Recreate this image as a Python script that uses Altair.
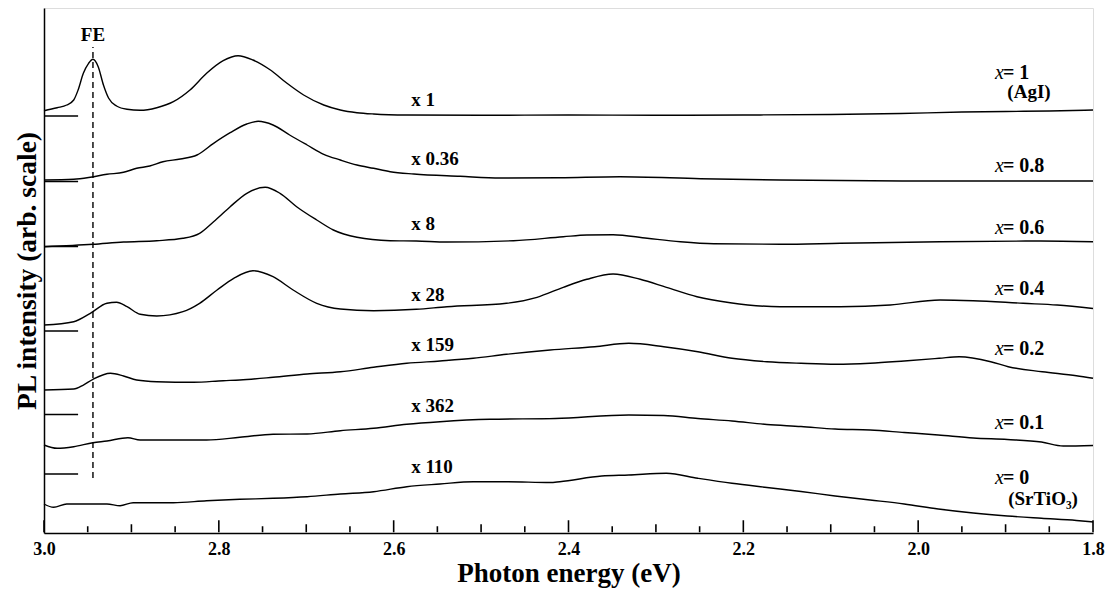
import altair as alt
import pandas as pd

# ---------------- data (arb. intensity units) ----------------
series_names = ["x=1", "x=0.8", "x=0.6", "x=0.4", "x=0.2", "x=0.1", "x=0"]

e1 = [3.000, 2.985, 2.974, 2.966, 2.961, 2.955, 2.949, 2.944, 2.938, 2.932, 2.926, 2.917, 2.905, 2.890,
      2.871, 2.852, 2.833, 2.814, 2.795, 2.778, 2.761, 2.741, 2.722, 2.703, 2.680, 2.661, 2.642, 2.623,
      2.585, 2.50, 2.40, 2.30, 2.20, 2.10, 2.02, 1.95, 1.90, 1.85, 1.80]
i1 = [422.3, 425.3, 428, 433, 443, 459.7, 469.7, 473.7, 466.3, 448, 434.7, 427, 423.7, 422.7,
      425.3, 431.3, 443, 459.7, 472.3, 477.3, 473, 463, 449.7, 438, 428, 423, 420.3, 419,
      418, 417.7, 418, 417.7, 418, 418.5, 419.5, 421, 421.5, 422, 423]

e2 = [3.000, 2.966, 2.947, 2.928, 2.909, 2.894, 2.879, 2.864, 2.844, 2.825, 2.806, 2.787, 2.768, 2.755,
      2.738, 2.719, 2.699, 2.680, 2.661, 2.642, 2.623, 2.604, 2.577, 2.524, 2.478, 2.410, 2.341, 2.249,
      2.158, 2.000, 1.800]
i2 = [353, 353.7, 355.7, 358.7, 360.7, 364.7, 367, 371.3, 374, 378, 389.7, 400.3, 409, 411.7,
      408, 398, 388, 378.7, 373, 368, 364.7, 361.3, 359, 356.7, 355, 355.3, 356.3, 354.3,
      353, 352, 352]

e3 = [3.000, 2.944, 2.909, 2.871, 2.841, 2.822, 2.806, 2.787, 2.768, 2.747, 2.730, 2.711, 2.688, 2.669,
      2.642, 2.604, 2.574, 2.539, 2.463, 2.406, 2.379, 2.349, 2.310, 2.272, 2.234, 2.158, 2.089, 1.975,
      1.860, 1.800]
i3 = [286.3, 288.7, 291, 292.3, 294.7, 299.7, 311.3, 326.3, 339.7, 345.7, 339.7, 326.3, 313, 303,
      295.7, 292.3, 292, 291, 292.3, 296.3, 298, 298.3, 294.7, 291.3, 289.3, 288.7, 289.7, 291.3,
      292, 291.3]

e4 = [3.000, 2.966, 2.947, 2.928, 2.917, 2.905, 2.890, 2.871, 2.841, 2.822, 2.802, 2.783, 2.761, 2.738,
      2.715, 2.688, 2.661, 2.623, 2.574, 2.539, 2.471, 2.436, 2.406, 2.379, 2.349, 2.318, 2.288, 2.253,
      2.215, 2.158, 2.089, 2.032, 1.975, 1.937, 1.880, 1.841, 1.800]
i4 = [208, 211.3, 219.7, 229.7, 230.7, 226.3, 218.7, 217, 221.3, 229.7, 243, 254.7, 262.3, 256.3,
      243, 229.7, 224, 222.3, 223.7, 226.3, 229.7, 235.7, 245.7, 253.7, 259, 253.7, 245.7, 236.3,
      230.3, 226.3, 226.3, 228, 233, 232.3, 229.7, 228, 224.5]

e5 = [3.000, 2.966, 2.955, 2.944, 2.924, 2.909, 2.894, 2.871, 2.829, 2.795, 2.776, 2.738, 2.699, 2.661,
      2.623, 2.585, 2.547, 2.509, 2.471, 2.421, 2.370, 2.331, 2.291, 2.252, 2.213, 2.173, 2.134, 2.094,
      2.055, 2.016, 1.976, 1.953, 1.917, 1.897, 1.858, 1.819, 1.800]
i5 = [143, 144, 148, 153.7, 159.7, 157, 153, 151.3, 150.7, 152.3, 153, 155.7, 159, 161.3,
      165.7, 169.7, 172, 174.7, 178.7, 183, 186.3, 189.7, 186.3, 181.3, 174.7, 171.3, 169.7, 168.7,
      169.7, 172, 174.7, 176.3, 171.3, 166.3, 161.3, 157.3, 154.7]

e6 = [3.000, 2.985, 2.966, 2.944, 2.928, 2.904, 2.890, 2.852, 2.814, 2.776, 2.738, 2.699, 2.661, 2.623,
      2.585, 2.547, 2.490, 2.415, 2.331, 2.291, 2.252, 2.213, 2.173, 2.134, 2.095, 2.055, 2.016, 1.977,
      1.937, 1.898, 1.859, 1.834, 1.800]
i6 = [88, 84.7, 86.3, 90.3, 92, 95.3, 93, 93, 93, 95.7, 98.7, 99, 102.3, 104.7,
      108.7, 111.3, 113.7, 114.5, 118, 117.5, 114.5, 112, 108.5, 106.5, 104, 103, 100.5, 98,
      95, 93.5, 91, 87, 87.5]

e7 = [3.000, 2.989, 2.974, 2.928, 2.913, 2.898, 2.852, 2.814, 2.776, 2.738, 2.699, 2.661, 2.623, 2.585,
      2.547, 2.509, 2.471, 2.421, 2.410, 2.362, 2.331, 2.288, 2.252, 2.213, 2.173, 2.134, 2.095, 2.055,
      2.016, 1.977, 1.937, 1.898, 1.859, 1.819, 1.800]
i7 = [29, 25.7, 29, 29, 27.3, 30.3, 30.3, 32.3, 33.7, 34.7, 36.3, 39, 41.3, 46.3,
      49, 51.3, 51.3, 50.5, 51.3, 57, 58, 59.7, 54.7, 49.7, 45.5, 41.5, 37, 33,
      29, 24, 20, 17, 14.7, 12.5, 11]

energies = [e1, e2, e3, e4, e5, e6, e7]
intensities = [i1, i2, i3, i4, i5, i6, i7]

# zero-level marks for the six upper spectra
baseline_levels = [417, 351.5, 286.5, 202, 118.5, 59]
baseline_start = 3.0
baseline_end = 2.961

# FE marker
fe_energy = 2.944
fe_low, fe_high = 55, 486
fe_label_level = 498

# scale factors
scale_texts = ["x 1", "x 0.36", "x 8", "x 28", "x 159", "x 362", "x 110"]
scale_levels = [433, 374, 309, 238.5, 188, 127, 66.5]
scale_energy = 2.58

# composition labels
comp_values = ["= 1", "= 0.8", "= 0.6", "= 0.4", "= 0.2", "= 0.1", "= 0"]
comp_levels = [460, 367.5, 305, 244, 184.5, 110.5, 55.5]
comp_x_energy = 1.912
comp_val_energy = 1.903
sub_texts = ["(AgI)", "(SrTiO₃)"]
sub_levels = [441, 34]
sub_energy = [1.898, 1.897]

major_ticks = [3.0, 2.8, 2.6, 2.4, 2.2, 2.0, 1.8]
mid_ticks = [2.9, 2.7, 2.5, 2.3, 2.1, 1.9]
minor_ticks = [2.95, 2.85, 2.75, 2.65, 2.55, 2.45, 2.35, 2.25, 2.15, 2.05, 1.95, 1.85]
tick_len = {"major": 12, "mid": 8, "minor": 6}

# ---------------- build chart ----------------
W, H = 1049, 525
FONT = "Liberation Serif"

seg_rows = []
for lv in baseline_levels:
    seg_rows.append({"E": baseline_start, "E2": baseline_end, "I": lv, "I2": lv, "kind": "solid"})
seg_rows.append({"E": fe_energy, "E2": fe_energy, "I": fe_low, "I2": fe_high, "kind": "dashed"})
segs = pd.DataFrame(seg_rows)

tick_rows = []
for name, vals in [("major", major_ticks), ("mid", mid_ticks), ("minor", minor_ticks)]:
    for v in vals:
        tick_rows.append({"E": v, "I": 0.75, "I2": tick_len[name] + 0.75})
tks = pd.DataFrame(tick_rows)

rows = []
for name, es, iv in zip(series_names, energies, intensities):
    for e, v in zip(es, iv):
        rows.append({"E": e, "I": v, "series": name})
spec = pd.DataFrame(rows)

xscale = alt.Scale(domain=[1.8, 3.0], reverse=True, nice=False, zero=False)
yscale = alt.Scale(domain=[0, 525], nice=False, zero=False)

xenc = alt.X("E:Q", scale=xscale,
             axis=alt.Axis(title="Photon energy (eV)", values=major_ticks, format=".1f",
                           tickSize=0, grid=False, labelFontSize=18, labelFontWeight="bold",
                           labelPadding=7, titleFontSize=27, titleFontWeight="bold", titlePadding=2,
                           domainColor="black", domainWidth=1.5, labelColor="black", titleColor="black",
                           labelFont=FONT, titleFont=FONT, labelFlush=False, zindex=0))
yenc = alt.Y("I:Q", scale=yscale,
             axis=alt.Axis(title="PL intensity (arb. scale)", labels=False, ticks=False, grid=False,
                           titleFontSize=27.5, titleFontWeight="bold", titlePadding=3,
                           domainColor="black", domainWidth=1.5, titleColor="black", titleFont=FONT,
                           zindex=0))


def xq(field="E"):
    return alt.X(field + ":Q", scale=xscale)


def yq(field="I"):
    return alt.Y(field + ":Q", scale=yscale)


lines = alt.Chart(spec).mark_line(color="black", strokeWidth=1.4, interpolate="monotone").encode(
    x=xenc, y=yenc, detail="series:N", order="E:Q")

seg_layer = alt.Chart(segs).mark_rule(color="black", strokeWidth=1.4).encode(
    x=xq(), x2="E2:Q", y=yq(), y2="I2:Q",
    strokeDash=alt.StrokeDash("kind:N",
                              scale=alt.Scale(domain=["solid", "dashed"], range=[[1, 0], [6, 4]]),
                              legend=None))

tick_layer = alt.Chart(tks).mark_rule(color="black", strokeWidth=1.6).encode(
    x=xq(), y=yq(), y2="I2:Q")

fe_lab = pd.DataFrame({"E": [fe_energy], "I": [fe_label_level], "t": ["FE"]})
fe_text = alt.Chart(fe_lab).mark_text(font=FONT, fontSize=19, fontWeight="bold", color="black",
                                      align="center", baseline="middle").encode(
    x=xq(), y=yq(), text="t:N")

sc = pd.DataFrame({"E": [scale_energy] * len(scale_texts), "I": scale_levels, "t": scale_texts})
sc_text = alt.Chart(sc).mark_text(font=FONT, fontSize=19, fontWeight="bold", color="black",
                                  align="left", baseline="middle").encode(
    x=xq(), y=yq(), text="t:N")

cx = pd.DataFrame({"E": [comp_x_energy] * len(comp_levels), "I": comp_levels, "t": ["x"] * len(comp_levels)})
cx_text = alt.Chart(cx).mark_text(font=FONT, fontSize=20, fontStyle="italic", color="black",
                                  align="left", baseline="middle").encode(
    x=xq(), y=yq(), text="t:N")

cv = pd.DataFrame({"E": [comp_val_energy] * len(comp_levels), "I": comp_levels, "t": comp_values})
cv_text = alt.Chart(cv).mark_text(font=FONT, fontSize=20, fontWeight="bold", color="black",
                                  align="left", baseline="middle").encode(
    x=xq(), y=yq(), text="t:N")

sb = pd.DataFrame({"E": sub_energy, "I": sub_levels, "t": sub_texts})
sb_text = alt.Chart(sb).mark_text(font=FONT, fontSize=19, fontWeight="bold", color="black",
                                  align="left", baseline="middle").encode(
    x=xq(), y=yq(), text="t:N")

chart = alt.layer(lines, seg_layer, fe_text, sc_text, cx_text, cv_text, sb_text, tick_layer).properties(
    width=W, height=H,
    autosize=alt.AutoSizeParams(type="none"),
    padding={"left": 44, "top": 8, "right": 14, "bottom": 57},
).configure_view(stroke="black", strokeWidth=1.5).configure(background="white", font=FONT)

chart.save("out.html", embed_options={"renderer": "svg", "actions": False})
